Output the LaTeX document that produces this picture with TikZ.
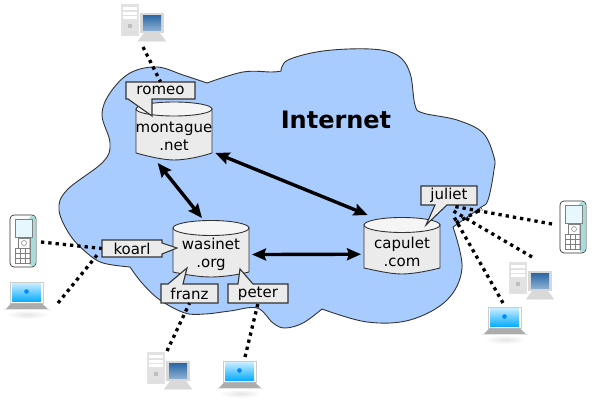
\documentclass[tikz,border=0pt]{standalone}
\usepackage{fontspec}
\setmainfont{DejaVu Sans}
\usetikzlibrary{arrows.meta}
\definecolor{cloudblue}{HTML}{A9CCFF}
\definecolor{boxgrey}{HTML}{EBEBEB}
\definecolor{edgegrey}{HTML}{333333}
\definecolor{towergrey}{HTML}{E2E2E2}
\definecolor{monitortop}{HTML}{8FB2D2}
\definecolor{monitorbottom}{HTML}{2F6CA8}
\definecolor{skyblue}{HTML}{00AAFF}
\definecolor{phoneteal}{HTML}{A8DCD8}
\tikzset{
  x=1pt,y=-1pt,
  cloud/.style={fill=cloudblue,draw=edgegrey,line width=0.9pt},
  dbbody/.style={fill=boxgrey,draw=edgegrey,line width=0.9pt},
  dbtop/.style={fill=white!96!black,draw=edgegrey,line width=0.9pt},
  dbtext/.style={font=\fontsize{15}{19}\selectfont,align=center,minimum width=76pt,inner sep=0pt,outer sep=3pt},
  callout/.style={fill=boxgrey,draw=edgegrey,line width=1.1pt,line join=miter},
  labeltext/.style={font=\fontsize{15}{18}\selectfont,inner sep=0pt},
  link/.style={line width=3.4pt,{Stealth[length=14pt,width=12pt,inset=2pt]}-{Stealth[length=14pt,width=12pt,inset=2pt]}},
  wire/.style={line width=3.3pt,dash pattern=on 3.3pt off 4pt,black},
  pc/.pic={
    \fill[towergrey] (0,0) rectangle (18,32);
    \fill[white] (2,3) rectangle (16,6);
    \fill[white] (2,8) rectangle (16,11);
    \fill[white] (2,12.500) rectangle (16,15.500);
    \fill[gray!50] (7,20) rectangle (11,24);
    \fill[gray!25] (2,27) rectangle (16,31);
    \fill[towergrey!90!gray] (19,9) rectangle (43,29);
    \shade[top color=monitorbottom,bottom color=monitortop] (22,12) rectangle (40,27);
    \fill[gray!30] (23,29) -- (39,29) -- (45,37) -- (17,37) -- cycle;
    \fill[gray!15] (17,37) rectangle (45,38);
  },
  phone/.pic={
    \fill[white,draw=edgegrey,line width=0.7pt,rounded corners=4pt] (0,0) rectangle (26,52);
    \fill[phoneteal,rounded corners=3pt] (19,1) rectangle (25.500,51);
    \fill[cyan!10,draw=gray,line width=0.5pt] (5,4) rectangle (22,22);
    \draw[gray,line width=0.5pt] (8,23) rectangle (20,33);
    \draw[gray,line width=0.5pt] (14,28) circle (2.500);
    \draw[gray,line width=0.4pt] (5,33) rectangle (20,48);
    \draw[gray,line width=0.4pt] (10,33) -- (10,48) (15,33) -- (15,48) (5,38) -- (20,38) (5,43) -- (20,43);
  },
  laptop/.pic={
    \shade[inner color=gray!20,outer color=white] (-4,28) rectangle (38,37);
    \fill[white,draw=gray!40,line width=0.6pt] (0,0) rectangle (33,21);
    \shade[top color=white!75!skyblue,bottom color=skyblue] (2,2) rectangle (31,20);
    \fill[skyblue!80!blue] (16.500,9.500) circle (2.300);
    \fill[gray!65] (1,21.500) -- (32,21.500) -- (38,27) -- (-4,27) -- cycle;
    \fill[gray!20] (-6,27) rectangle (40,28.500);
  },
}
\begin{document}
\begin{tikzpicture}
\useasboundingbox (0,0) rectangle (592,403);
\fill[white] (0,0) rectangle (592,403);
% cloud
\draw[cloud] plot[smooth,tension=0.6] coordinates {(207,83) (243,72) (272,72) (281,71)}
  -- plot[smooth,tension=0.6] coordinates {(281,71) (288,60) (323,51) (370,49) (397,55) (410,73) (415,105) (423,113) (457,120) (483,133) (494,157) (494,170) (488,200) (480,208) (453,227)}
  -- plot[smooth,tension=0.6] coordinates {(453,227) (462,268) (447,300) (410,320) (367,322) (322,309)}
  -- plot[smooth,tension=0.6] coordinates {(322,309) (303,323) (285,328) (273,323) (257,308) (230,311) (205,314) (185,313) (160,300) (142,283) (130,267)}
  -- plot[smooth,tension=0.6] coordinates {(130,267) (103,263) (87,253) (70,235) (59,210) (67,190) (103,162) (110,143) (102,115) (110,93) (130,73) (157,67) (183,75) (207,83)}
  -- cycle;
\node[font=\fontsize{24}{28}\selectfont\bfseries] (internet) at (336,120) {Internet};
% device ends
\coordinate (romeopc) at (143,47);
\coordinate (koarlphone) at (41,242);
\coordinate (koarllaptop) at (58,303);
\coordinate (franzpc) at (167,351);
\coordinate (peterlaptop) at (245,357);
\coordinate (julietphone) at (552,224);
\coordinate (julietpc) at (532,257);
\coordinate (julietlaptop) at (503,303);
\coordinate (julieta) at (456,223);
\coordinate (julietb) at (482,209);
% servers
\draw[dbbody] (136,109) -- (136,153) .. controls (150,157) and (165,160) .. (174,160) .. controls (185,160) and (200,157) .. (212,153) -- (212,109) -- cycle;
\draw[dbtop] (174,109) ellipse (38 and 7);
\node[dbtext,minimum height=58pt] (montague) at (174,131) {\vphantom{g}\\[-7pt]montague\\[-1pt].net};
\draw[dbbody] (173,228) -- (173,272) .. controls (187,275) and (200,277) .. (211,277) .. controls (222,277) and (237,275) .. (249,272) -- (249,228) -- cycle;
\draw[dbtop] (211,228) ellipse (38 and 7.500);
\node[dbtext,minimum height=57pt] (wasinet) at (211,249.500) {\vphantom{g}\\[-7pt]wasinet\\[-1pt].org};
\draw[dbbody] (364,225) -- (364,268) .. controls (378,271) and (391,274) .. (402,274) .. controls (413,274) and (428,271) .. (440,268) -- (440,225) -- cycle;
\draw[dbtop] (402,225) ellipse (38 and 7.500);
\node[dbtext,minimum height=58pt] (capulet) at (402,247) {\vphantom{g}\\[-7pt]capulet\\[-1pt].com};
% links
\draw[link] (montague.-28) -- (capulet.137);
\draw[link] (montague.-117) -- (wasinet.106);
\draw[link] (wasinet.-7) -- (capulet.-170);
% callouts
\draw[callout] (126,82) -- (195,82) -- (195,99) -- (152,99) -- (152,116) -- (128,99) -- (126,99) -- cycle;
\node[labeltext] (romeo) at (160.500,90.500) [minimum width=69pt,minimum height=17pt] {romeo};
\draw[callout] (102,240) -- (162,240) -- (162,243) -- (177,248) -- (162,254) -- (162,257) -- (102,257) -- cycle;
\node[labeltext] (koarl) at (132,248.500) [minimum width=60pt,minimum height=17pt] {koarl};
\draw[callout] (161,284) -- (168,284) -- (187,268) -- (183,284) -- (218,284) -- (218,303) -- (161,303) -- cycle;
\node[labeltext] (franz) at (189.500,293.500) [minimum width=57pt,minimum height=19pt] {franz};
\draw[callout] (228,284) -- (238,284) -- (240,269) -- (253,284) -- (288,284) -- (288,303) -- (228,303) -- cycle;
\node[labeltext] (peter) at (258,293.500) [minimum width=60pt,minimum height=19pt] {peter};
\draw[callout] (421,186) -- (477,186) -- (477,205) -- (447,205) -- (426,225) -- (435,205) -- (421,205) -- cycle;
\node[labeltext] (juliet) at (449,195.500) [minimum width=56pt,minimum height=19pt] {juliet};
% dotted connections
\draw[wire] (romeopc) -- (romeo.north);
\draw[wire] (koarlphone) -- (koarl.west);
\draw[wire] (koarllaptop) -- ([xshift=-4pt,yshift=3pt]koarl.south west);
\draw[wire] (franzpc) -- (franz.south);
\draw[wire] (peterlaptop) -- (peter.south);
\draw[wire] (julietphone) -- ([xshift=4pt,yshift=-1pt]juliet.south);
\draw[wire] (julietpc) -- ([xshift=3pt,yshift=-5pt]juliet.south);
\draw[wire] (julietlaptop) -- ([xshift=4pt,yshift=-10pt]juliet.south);
\draw[wire] (julieta) -- (julietb);
% devices
\pic (pca) at (121,4) {pc};
\pic (pcb) at (147,352) {pc};
\pic (pcc) at (509,262) {pc};
\pic (phonea) at (10,215) {phone};
\pic (phoneb) at (560,201) {phone};
\pic (lapa) at (10,282) {laptop};
\pic (lapb) at (223,361) {laptop};
\pic (lapc) at (488,307) {laptop};
\end{tikzpicture}
\end{document}
